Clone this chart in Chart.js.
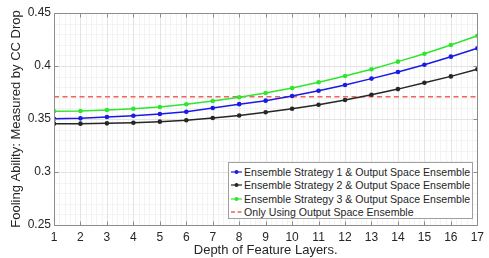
<!DOCTYPE html>
<html>
<head>
<meta charset="utf-8">
<script src="https://cdn.jsdelivr.net/npm/chart.js@4.4.1/dist/chart.umd.min.js"></script>
<style>
  html, body { margin: 0; padding: 0; background: #fff; }
  #wrap { position: relative; width: 489px; height: 258px; }
  #legend {
    position: absolute; left: 228px; top: 162px; width: 245px; height: 57px;
    border: 1px solid #a0a0a0; background: #fff; box-sizing: border-box;
    font-family: "Liberation Sans", Arial, sans-serif; font-size: 10.6px; color: #262626;
    padding-top: 2px; padding-left: 1px;
  }
  .row { display: flex; align-items: center; height: 13.5px; white-space: nowrap; }
  .row svg { flex: none; margin-right: 1px; }
</style>
</head>
<body>
<div id="wrap">
  <canvas id="c" width="489" height="258"></canvas>
  <div id="legend"></div>
</div>
<script>
const depths = [1,2,3,4,5,6,7,8,9,10,11,12,13,14,15,16,17];
const strategy1 = [0.3503,0.3506,0.3519,0.3531,0.3547,0.3569,0.3604,0.3640,0.3673,0.3717,0.3767,0.3821,0.3881,0.3943,0.4012,0.4088,0.4167];
const strategy2 = [0.3456,0.3456,0.3459,0.3465,0.3475,0.3488,0.3509,0.3533,0.3563,0.3597,0.3635,0.3679,0.3729,0.3782,0.3842,0.3902,0.3969];
const strategy3 = [0.3573,0.3575,0.3585,0.3597,0.3613,0.3639,0.3670,0.3705,0.3745,0.3792,0.3846,0.3906,0.3969,0.4041,0.4116,0.4198,0.4286];
const outputOnly = 0.3710;
const seriesLabels = [
  "Ensemble Strategy 1 & Output Space Ensemble",
  "Ensemble Strategy 2 & Output Space Ensemble",
  "Ensemble Strategy 3 & Output Space Ensemble",
  "Only Using Output Space Ensemble"
];
const yTicks = [0.25, 0.3, 0.35, 0.4, 0.45];
const xTitle = "Depth of Feature Layers.";
const yTitle = "Fooling Ability: Measured by CC Drop";

const colors = ["#1a1ae6", "#262626", "#2ee62e", "#f0645a"];
const pts = arr => arr.map((v, i) => ({x: depths[i], y: v}));

const FONT = "'Liberation Sans', Arial, sans-serif";
const TXT = "#262626";
const AXC = "#8c8c8c";

const gridPlugin = {
  id: 'mgrid',
  beforeDatasetsDraw(chart) {
    const {ctx, chartArea: a, scales: {x, y}} = chart;
    ctx.save();
    ctx.lineWidth = 1;
    ctx.strokeStyle = "#f3f3f3";
    ctx.beginPath();
    for (let i = 0; i <= 80; i++) {
      const v = 1 + i * 0.2;
      const px = Math.round(x.getPixelForValue(v)) + 0.5;
      ctx.moveTo(px, a.top); ctx.lineTo(px, a.bottom);
    }
    for (let i = 0; i <= 20; i++) {
      const v = 0.25 + i * 0.01;
      const py = Math.round(y.getPixelForValue(v)) + 0.5;
      ctx.moveTo(a.left, py); ctx.lineTo(a.right, py);
    }
    ctx.stroke();
    ctx.strokeStyle = "#e3e3e3";
    ctx.beginPath();
    depths.forEach(v => {
      const px = Math.round(x.getPixelForValue(v)) + 0.5;
      ctx.moveTo(px, a.top); ctx.lineTo(px, a.bottom);
    });
    yTicks.forEach(v => {
      const py = Math.round(y.getPixelForValue(v)) + 0.5;
      ctx.moveTo(a.left, py); ctx.lineTo(a.right, py);
    });
    ctx.stroke();
    ctx.restore();
  },
  afterDatasetsDraw(chart) {
    const {ctx, chartArea: a, scales: {x, y}} = chart;
    ctx.save();
    ctx.strokeStyle = AXC;
    ctx.lineWidth = 1;
    ctx.beginPath();
    const L = Math.round(a.left) + 0.5, R = Math.round(a.right) + 0.5;
    const T = Math.round(a.top) + 0.5, B = Math.round(a.bottom) + 0.5;
    ctx.rect(L, T, R - L, B - T);
    depths.forEach(v => {
      const px = Math.round(x.getPixelForValue(v)) + 0.5;
      ctx.moveTo(px, B); ctx.lineTo(px, B - 4);
      ctx.moveTo(px, T); ctx.lineTo(px, T + 4);
    });
    yTicks.forEach(v => {
      const py = Math.round(y.getPixelForValue(v)) + 0.5;
      ctx.moveTo(L, py); ctx.lineTo(L + 4, py);
      ctx.moveTo(R, py); ctx.lineTo(R - 4, py);
    });
    ctx.stroke();
    ctx.restore();
  }
};

const lineDs = (k, data) => ({
  label: seriesLabels[k], data: pts(data),
  borderColor: colors[k], backgroundColor: colors[k],
  borderWidth: 1.5, pointRadius: 2.3, pointBorderWidth: 0,
  pointBackgroundColor: colors[k], tension: 0
});

new Chart(document.getElementById('c'), {
  type: 'line',
  data: {
    datasets: [
      {
        label: seriesLabels[3],
        data: [{x: depths[0], y: outputOnly}, {x: depths[depths.length - 1], y: outputOnly}],
        borderColor: colors[3], borderWidth: 1.6, borderDash: [5, 3.5],
        pointRadius: 0, order: 10
      },
      lineDs(2, strategy3),
      lineDs(0, strategy1),
      lineDs(1, strategy2)
    ]
  },
  options: {
    responsive: false,
    animation: false,
    layout: { padding: { left: 0, right: 10, top: 13, bottom: 0 } },
    plugins: { legend: { display: false }, tooltip: { enabled: false } },
    scales: {
      x: {
        type: 'linear', min: 1, max: 17,
        afterBuildTicks: s => { s.ticks = depths.map(v => ({value: v})); },
        afterFit: s => { s.height = 33; },
        grid: { display: false, drawTicks: false },
        border: { display: false },
        ticks: { color: TXT, font: { family: FONT, size: 12 }, padding: 5, maxRotation: 0, autoSkip: false },
        title: { display: true, text: xTitle, color: TXT, font: { family: FONT, size: 13 }, padding: { top: 0, bottom: 0 } }
      },
      y: {
        type: 'linear', min: 0.25, max: 0.45,
        afterBuildTicks: s => { s.ticks = yTicks.map(v => ({value: v})); },
        afterFit: s => { s.width = 54; },
        grid: { display: false, drawTicks: false },
        border: { display: false },
        ticks: { color: TXT, font: { family: FONT, size: 12 }, padding: 3,
          callback: v => String(+v.toFixed(2)) },
        title: { display: true, text: yTitle, color: TXT, font: { family: FONT, size: 13 }, padding: { top: 9, bottom: 0 } }
      }
    }
  },
  plugins: [gridPlugin]
});

const leg = document.getElementById('legend');
[0, 1, 2, 3].forEach(k => {
  const row = document.createElement('div');
  row.className = 'row';
  const dashed = k === 3;
  row.innerHTML =
    `<svg width="13" height="8" viewBox="0 0 13 8">` +
    (dashed
      ? `<line x1="1" y1="4" x2="12" y2="4" stroke="${colors[k]}" stroke-width="1.4" stroke-dasharray="4 2.5"/>`
      : `<line x1="1" y1="4" x2="12" y2="4" stroke="${colors[k]}" stroke-width="1.2"/><circle cx="6.5" cy="4" r="2" fill="${colors[k]}"/>`) +
    `</svg><span>${seriesLabels[k]}</span>`;
  leg.appendChild(row);
});
</script>
</body>
</html>
